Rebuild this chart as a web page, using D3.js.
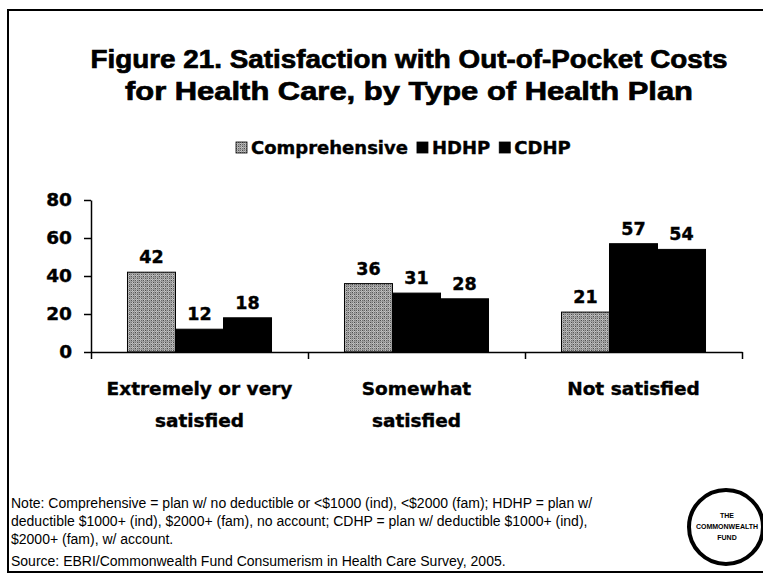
<!DOCTYPE html>
<html><head><meta charset="utf-8">
<script src="https://cdn.jsdelivr.net/npm/d3@7"></script>
<style>
html,body{margin:0;padding:0;background:#fff;}
svg{display:block;}
</style></head>
<body>
<svg id="c" width="763" height="575"></svg>
<script>
const categories = [["Extremely or very","satisfied"],["Somewhat","satisfied"],["Not satisfied"]];
const series = ["Comprehensive","HDHP","CDHP"];
const comprehensive = [42, 36, 21];
const hdhp = [12, 31, 57];
const cdhp = [18, 28, 54];
const yTicks = [0, 20, 40, 60, 80];
const titleLines = ["Figure 21. Satisfaction with Out-of-Pocket Costs","for Health Care, by Type of Health Plan"];
const noteLines = [
 "Note: Comprehensive = plan w/ no deductible or <$1000 (ind), <$2000 (fam); HDHP = plan w/",
 "deductible $1000+ (ind), $2000+ (fam), no account; CDHP = plan w/ deductible $1000+ (ind),",
 "$2000+ (fam), w/ account.",
 "Source: EBRI/Commonwealth Fund Consumerism in Health Care Survey, 2005."
];
const logoLines = ["THE","COMMONWEALTH","FUND"];

const values = [comprehensive, hdhp, cdhp];
const svg = d3.select("#c");
const BOLD = "'DejaVu Sans', sans-serif";
const ARIAL = "'Liberation Sans', Arial, sans-serif";

// texture pattern for Comprehensive
const defs = svg.append("defs");
const pat = defs.append("pattern").attr("id","tex").attr("patternUnits","userSpaceOnUse")
  .attr("width",8).attr("height",8);
pat.append("rect").attr("width",8).attr("height",8).attr("fill","#8a8a8a");
const greys = ["#4a4a4a","#b8b8b8","#6a6a6a","#a4a4a4","#5a5a5a","#c6c6c6","#767676","#9c9c9c"];
for (let r=0;r<8;r++) for (let c=0;c<8;c++) {
  pat.append("rect").attr("x",c).attr("y",r).attr("width",1).attr("height",1)
    .attr("fill",greys[(r*7+c*13+r*c*3 + ((r+c)%2)*4)%8]);
}

// frame
svg.append("path").attr("d","M763,10 L8,10 L8,572 L763,572").attr("fill","none").attr("stroke","#000").attr("stroke-width",2);

// title
svg.append("g").selectAll("text").data(titleLines).join("text")
  .attr("x",409).attr("y",(d,i)=>68+i*32).attr("text-anchor","middle")
  .attr("font-family",ARIAL).attr("font-weight","bold").attr("font-size",26)
  .attr("stroke","#000").attr("stroke-width",0.7)
  .attr("textLength",(d,i)=>[637,568][i]).attr("lengthAdjust","spacingAndGlyphs")
  .text(d=>d);

// scales
const x0 = d3.scaleBand().domain(d3.range(categories.length)).range([91,742]);
const x1 = d3.scaleBand().domain(series).range([0,x0.bandwidth()]).paddingInner(0).paddingOuter(0.76);
const y = d3.scaleLinear().domain([0,80]).range([352,200]);
const color = d3.scaleOrdinal().domain(series).range(["url(#tex)","#000","#000"]);

// bars
const groups = svg.append("g").selectAll("g").data(categories).join("g")
  .attr("transform",(d,i)=>`translate(${x0(i)},0)`);
groups.selectAll("rect").data((d,i)=>series.map((s,j)=>({s, v: values[j][i]}))).join("rect")
  .attr("x",d=>x1(d.s)).attr("width",x1.bandwidth())
  .attr("y",d=>y(d.v)).attr("height",d=>y(0)-y(d.v))
  .attr("fill",d=>color(d.s)).attr("stroke","#000").attr("stroke-width",1);
groups.selectAll("text").data((d,i)=>series.map((s,j)=>({s, v: values[j][i]}))).join("text")
  .attr("x",d=>x1(d.s)+x1.bandwidth()/2).attr("y",d=>y(d.v)-9)
  .attr("text-anchor","middle").attr("font-family",BOLD).attr("font-weight","bold").attr("font-size",17.5)
  .attr("stroke","#000").attr("stroke-width",0.4)
  .text(d=>d.v);

// y axis
const yAxis = svg.append("g").attr("transform","translate(91,0)")
  .call(d3.axisLeft(y).tickValues(yTicks).tickSize(7).tickSizeOuter(0).tickPadding(12));
yAxis.select(".domain").attr("stroke","#000").attr("stroke-width",1.5);
yAxis.selectAll(".tick line").attr("stroke","#000").attr("stroke-width",1.5);
yAxis.selectAll("text").attr("font-family",BOLD).attr("font-weight","bold").attr("font-size",18.5)
  .attr("fill","#000").attr("stroke","#000").attr("stroke-width",0.4);

// x axis
const xBounds = d3.range(categories.length+1).map(i=> i<categories.length ? x0(i) : x0(i-1)+x0.bandwidth());
const xAxis = svg.append("g").attr("transform",`translate(0,${y(0)})`)
  .call(d3.axisBottom(d3.scaleLinear().domain([91,742]).range([91,742])).tickValues(xBounds).tickSize(7).tickSizeOuter(0).tickFormat(""));
xAxis.select(".domain").attr("stroke","#000").attr("stroke-width",1.5);
xAxis.selectAll(".tick line").attr("stroke","#000").attr("stroke-width",1.5);

// category labels
const cl = svg.append("g").selectAll("text").data(categories).join("text")
  .attr("x",(d,i)=>x0(i)+x0.bandwidth()/2).attr("y",395)
  .attr("text-anchor","middle").attr("font-family",BOLD).attr("font-weight","bold").attr("font-size",18.5)
  .attr("stroke","#000").attr("stroke-width",0.4);
cl.selectAll("tspan").data(d=>d).join("tspan")
  .attr("x",function(){return this.parentNode.getAttribute("x");})
  .attr("dy",(d,i)=>i===0?0:32).text(d=>d);

// legend (sequential layout)
const lg = svg.append("g");
let lx = 236;
series.forEach(s=>{
  lg.append("rect").attr("x",lx).attr("y",142).attr("width",11).attr("height",11)
    .attr("fill",color(s)).attr("stroke","#000").attr("stroke-width",0.8);
  const t = lg.append("text").attr("x",lx+15).attr("y",154).attr("font-family",BOLD).attr("font-weight","bold")
    .attr("font-size",18).attr("stroke","#000").attr("stroke-width",0.4).text(s);
  lx = lx + 15 + t.node().getComputedTextLength() + 9;
});

// notes
svg.append("g").selectAll("text").data(noteLines).join("text")
  .attr("x",11).attr("y",(d,i)=>[508,526,544,566][i])
  .attr("font-family",ARIAL).attr("font-size",14).attr("fill","#000").text(d=>d);

// logo
svg.append("circle").attr("cx",726).attr("cy",527).attr("r",37).attr("fill","#fff").attr("stroke","#000").attr("stroke-width",4);
svg.append("g").selectAll("text").data(logoLines).join("text")
  .attr("x",727).attr("y",(d,i)=>518+i*11).attr("text-anchor","middle")
  .attr("font-family",ARIAL).attr("font-weight","bold").attr("font-size",7).text(d=>d);
</script>
</body></html>
